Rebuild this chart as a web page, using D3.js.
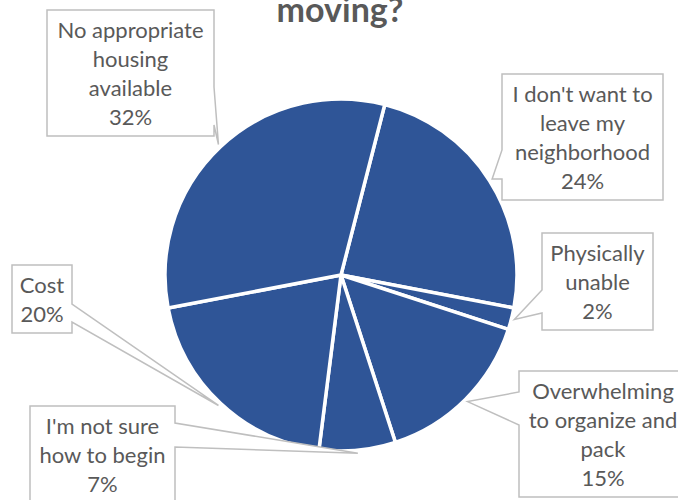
<!DOCTYPE html>
<html>
<head>
<meta charset="utf-8">
<script src="https://cdn.jsdelivr.net/npm/d3@7"></script>
<style>
	body { margin: 0; background: #fff; }
	svg { display: block; font-family: Lato, 'Open Sans', sans-serif; }
</style>
</head>
<body>
<svg></svg>
<script>
'use strict'

// data, clockwise from the first slice edge
let categories = [
	"I don't want to leave my neighborhood",
	'Physically unable',
	'Overwhelming to organize and pack',
	"I'm not sure how to begin",
	'Cost',
	'No appropriate housing available'
]
let values = [24, 2, 15, 7, 20, 32]
let titleText = 'moving?'

// callout boxes (same order as categories)
let callouts = [
	{ x: 502, y: 74, w: 161, wrap: 160, side: 'left', b: [76, 105] },
	{ x: 542, y: 233, w: 111, wrap: 110, side: 'left', b: [57, 80] },
	{ x: 519, y: 371, w: 168, wrap: 160, side: 'left', b: [21, 54] },
	{ x: 30, y: 406, w: 145, wrap: 140, side: 'right', b: [17, 41] },
	{ x: 12, y: 265, w: 60, wrap: 60, side: 'right', b: [39, 57] },
	{ x: 47, y: 10, w: 167, wrap: 155, side: 'right', b: [77, 115] }
]

let width = 678,
	height = 500

let cx = 341,
	cy = 275,
	radius = 176,
	lineH = 29,
	textColor = '#595959'

let svg = d3.select('svg')
	.attr('width', width)
	.attr('height', height)

svg.append('text')
	.attr('x', 340)
	.attr('y', 22)
	.attr('text-anchor', 'middle')
	.style('font-size', '34px')
	.style('font-weight', 'bold')
	.attr('fill', textColor)
	.text(titleText)

let a0 = 14.4 * Math.PI / 180

let pie = d3.pie()
	.sort(null)
	.startAngle(a0)
	.endAngle(a0 + 2 * Math.PI)

let arcs = pie(values)

let arc = d3.arc()
	.innerRadius(0)
	.outerRadius(radius)

svg.append('g')
	.attr('transform', 'translate(' + cx + ',' + cy + ')')
	.selectAll('path')
	.data(arcs)
	.enter().append('path')
	.attr('d', arc)
	.attr('fill', '#2F5597')
	.attr('stroke', '#fff')
	.attr('stroke-width', 3.5)
	.attr('stroke-linejoin', 'round')

// measure helper for word wrapping
let measure = svg.append('text')
	.style('font-size', '22px')
	.attr('visibility', 'hidden')

function wrap(str, maxW) {
	let words = str.split(' ')
	let lines = []
	let cur = ''
	words.forEach(function(w) {
		let test = cur ? cur + ' ' + w : w
		measure.text(test)
		if (cur && measure.node().getComputedTextLength() > maxW) {
			lines.push(cur)
			cur = w
		} else {
			cur = test
		}
	})
	lines.push(cur)
	return lines
}

let labels = svg.append('g')

arcs.forEach(function(d, i) {
	let c = callouts[i]
	let lines = wrap(categories[i], c.wrap)
	lines.push(values[i] + '%')
	let h = lines.length * lineH + 10

	let mid = (d.startAngle + d.endAngle) / 2
	let tx = cx + (radius + 3) * Math.sin(mid)
	let ty = cy - (radius + 3) * Math.cos(mid)

	let p = d3.path()
	if (c.side === 'right') {
		p.moveTo(c.x, c.y)
		p.lineTo(c.x + c.w, c.y)
		p.lineTo(c.x + c.w, c.y + c.b[0])
		p.lineTo(tx, ty)
		p.lineTo(c.x + c.w, c.y + c.b[1])
		p.lineTo(c.x + c.w, c.y + h)
		p.lineTo(c.x, c.y + h)
	} else {
		p.moveTo(c.x, c.y)
		p.lineTo(c.x + c.w, c.y)
		p.lineTo(c.x + c.w, c.y + h)
		p.lineTo(c.x, c.y + h)
		p.lineTo(c.x, c.y + c.b[1])
		p.lineTo(tx, ty)
		p.lineTo(c.x, c.y + c.b[0])
	}
	p.closePath()

	labels.append('path')
		.attr('d', p.toString())
		.attr('fill', '#fff')
		.attr('stroke', '#BFBFBF')
		.attr('stroke-width', 1.5)

	let t = labels.append('text')
		.attr('text-anchor', 'middle')
		.style('font-size', '22px')
		.attr('fill', textColor)

	lines.forEach(function(line, j) {
		t.append('tspan')
			.attr('x', c.x + c.w / 2)
			.attr('y', c.y + 28 + j * lineH)
			.text(line)
	})
})

measure.remove()
</script>
</body>
</html>
